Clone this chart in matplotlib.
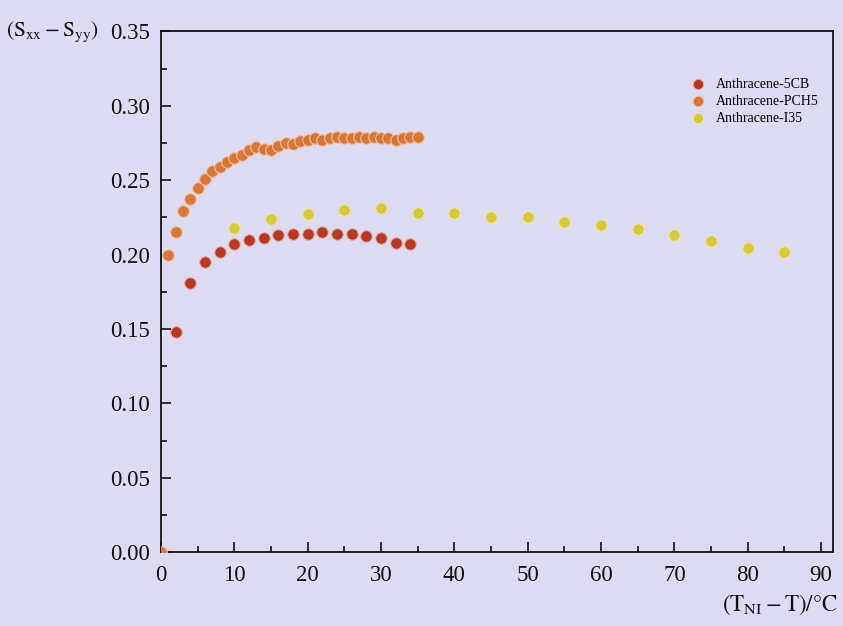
import numpy as np
import matplotlib
matplotlib.use("Agg")
from matplotlib import pyplot as plt
from matplotlib.ticker import MultipleLocator

plt.rcParams['font.family'] = ['Liberation Serif', 'DejaVu Serif']
plt.rcParams['mathtext.fontset'] = 'stix'

# 数据
x_5cb = [2, 4, 6, 8, 10, 12, 14, 16, 18, 20, 22, 24, 26, 28, 30, 32, 34]
y_5cb = [0.148, 0.181, 0.195, 0.202, 0.207, 0.210, 0.211, 0.213, 0.214, 0.214,
         0.215, 0.214, 0.2135, 0.2125, 0.211, 0.208, 0.207]

x_pch5 = [0, 1, 2, 3, 4, 5, 6, 7, 8, 9, 10, 11, 12, 13, 14, 15, 16, 17, 18,
          19, 20, 21, 22, 23, 24, 25, 26, 27, 28, 29, 30, 31, 32, 33, 34, 35]
y_pch5 = [0.0, 0.200, 0.215, 0.229, 0.237, 0.245, 0.251, 0.256, 0.259, 0.262,
          0.265, 0.267, 0.270, 0.272, 0.271, 0.270, 0.273, 0.275, 0.274, 0.276,
          0.277, 0.278, 0.277, 0.278, 0.279, 0.278, 0.278, 0.279, 0.278, 0.279,
          0.278, 0.278, 0.277, 0.278, 0.279, 0.279]

x_i35 = [10, 15, 20, 25, 30, 35, 40, 45, 50, 55, 60, 65, 70, 75, 80, 85]
y_i35 = [0.218, 0.224, 0.227, 0.230, 0.231, 0.228, 0.228, 0.225, 0.225, 0.222,
         0.220, 0.217, 0.213, 0.209, 0.2045, 0.202]

labels = ['Anthracene-5CB', 'Anthracene-PCH5', 'Anthracene-I35']
colors = ['#b53a26', '#d9773a', '#d8c93e']
edges = ['#e8b0a8', '#efc0a0', '#ece6a8']

bg = '#dcdbf2'
fig = plt.figure(figsize=(8.43, 6.26), dpi=100, facecolor=bg)
ax = fig.add_axes([0.191, 0.118, 0.797, 0.832], facecolor=bg)

for xs, ys, c, e, lab in zip([x_5cb, x_pch5, x_i35], [y_5cb, y_pch5, y_i35],
                             colors, edges, labels):
    ax.scatter(xs, ys, s=70, color=c, edgecolors=e, linewidths=0.8,
               label=lab, zorder=3, clip_on=True)

ax.set_xlim(0, 91.6)
ax.set_ylim(0, 0.35)
ax.xaxis.set_major_locator(MultipleLocator(10))
ax.xaxis.set_minor_locator(MultipleLocator(5))
ax.yaxis.set_major_locator(MultipleLocator(0.05))
ax.yaxis.set_minor_locator(MultipleLocator(0.025))
ax.yaxis.set_major_formatter(plt.FormatStrFormatter('%.2f'))

ax.tick_params(which='both', direction='in', top=False, right=False,
               labelsize=16.5, color='#111111', labelcolor='#111111')
ax.tick_params(which='major', length=7, width=1.2)
ax.tick_params(which='minor', length=4, width=1.2)
ax.tick_params(axis='y', pad=8)
ax.tick_params(axis='x', pad=9)
for sp in ax.spines.values():
    sp.set_linewidth(1.3)
    sp.set_color('#111111')

ax.legend(loc='upper right', bbox_to_anchor=(0.997, 0.935), frameon=False,
          fontsize=10, handletextpad=0.3, labelspacing=0.3,
          markerscale=0.9)

fig.text(6 / 843, 1 - 32 / 626, r'$\left(\mathrm{S_{xx}}-\mathrm{S_{yy}}\right)$',
         fontsize=15.5, ha='left', va='center', color='#111111')
fig.text(838 / 843, 1 - 605 / 626, r'$\left(\mathrm{T_{NI}}-\mathrm{T}\right)/°\mathrm{C}$',
         fontsize=16.5, ha='right', va='center', color='#111111')

fig.savefig('out.png', dpi=100, facecolor=bg)
